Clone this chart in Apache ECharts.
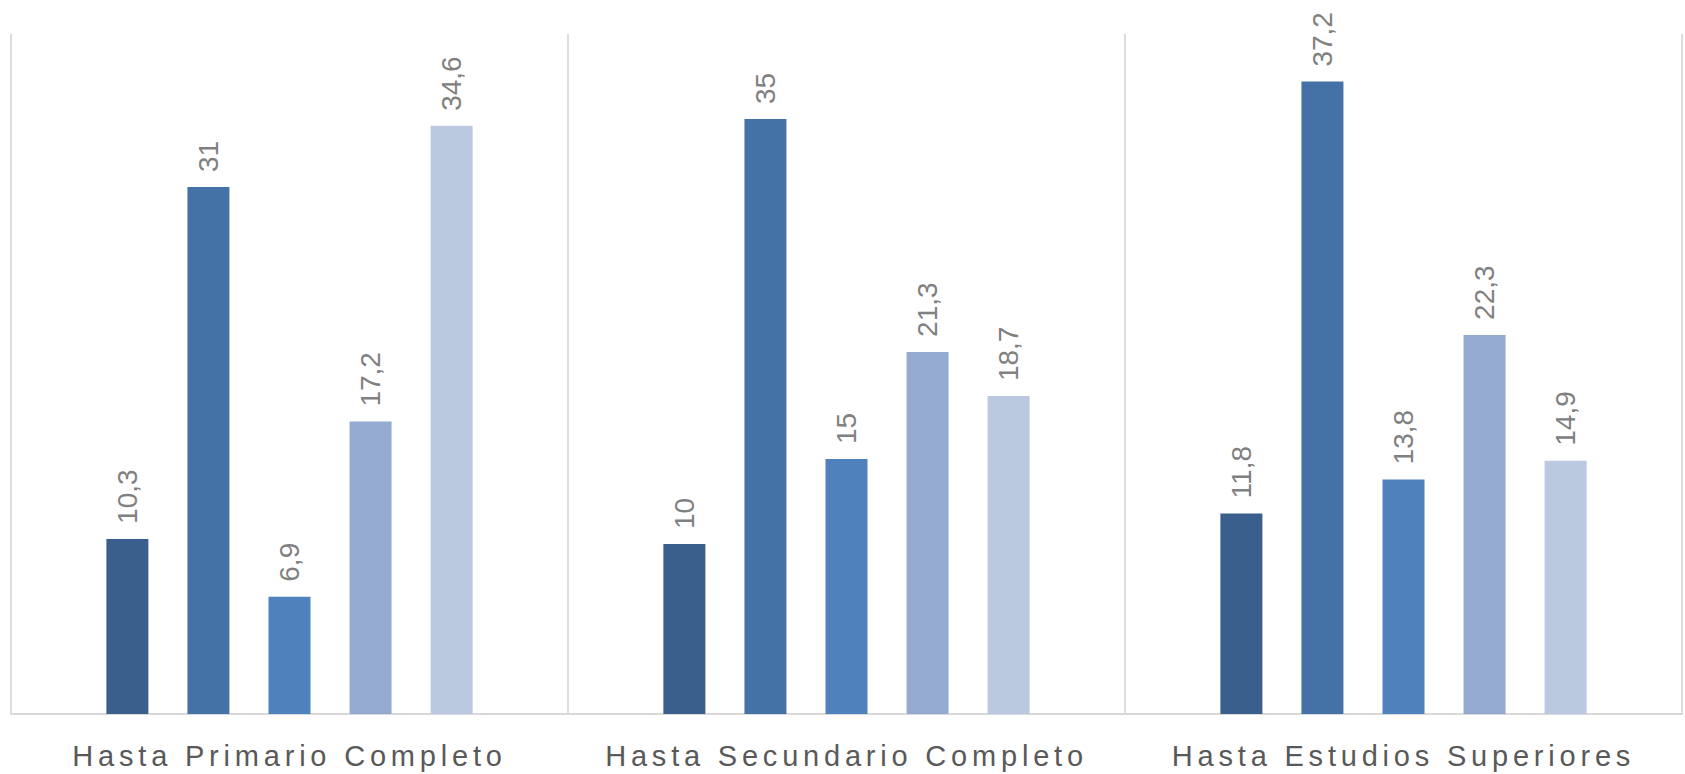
<!DOCTYPE html>
<html>
<head>
<meta charset="utf-8">
<script src="https://cdn.jsdelivr.net/npm/echarts@6/dist/echarts.min.js"></script>
<style>
html, body { margin: 0; padding: 0; background: #ffffff; }
#chart { width: 1685px; height: 774px; }
#chart text[fill="#595959"] { letter-spacing: 4.8px; }
</style>
</head>
<body>
<div id="chart"></div>
<script>
const categories = ['Hasta Primario Completo', 'Hasta Secundario Completo', 'Hasta Estudios Superiores'];
const seriesNames = ['Serie 1', 'Serie 2', 'Serie 3', 'Serie 4', 'Serie 5'];
const serie1 = [10.3, 10, 11.8];
const serie2 = [31, 35, 37.2];
const serie3 = [6.9, 15, 13.8];
const serie4 = [17.2, 21.3, 22.3];
const serie5 = [34.6, 18.7, 14.9];
const seriesValues = [serie1, serie2, serie3, serie4, serie5];
const colors = ['#3B5F8D', '#4572A6', '#4F81BD', '#95AAD0', '#BAC8E0'];

const chart = echarts.init(document.getElementById('chart'), null, { renderer: 'svg' });
chart.setOption({
  backgroundColor: '#ffffff',
  animation: false,
  grid: { left: 11, right: 3, top: 34, bottom: 60, containLabel: false },
  xAxis: {
    type: 'category',
    data: categories,
    axisLine: { show: true, lineStyle: { color: '#D9D9D9', width: 2 } },
    axisTick: { show: false },
    splitLine: { show: true, lineStyle: { color: '#DDDDDD', width: 2 } },
    axisLabel: { color: '#595959', fontSize: 29, fontFamily: 'Liberation Sans, Arial, sans-serif', margin: 27 }
  },
  yAxis: {
    type: 'value', min: 0, max: 40, interval: 10,
    show: false,
    splitLine: { show: false }
  },
  series: seriesValues.map((vals, i) => ({
    name: seriesNames[i],
    type: 'bar',
    data: vals,
    barWidth: 42,
    barGap: '93%',
    itemStyle: { color: colors[i] },
    label: {
      show: true,
      position: 'top',
      rotate: 90,
      align: 'left',
      verticalAlign: 'middle',
      distance: 15,
      color: '#808080',
      fontSize: 28,
      fontFamily: 'Liberation Sans, Arial, sans-serif',
      formatter: p => String(p.value).replace('.', ',')
    }
  }))
});
</script>
</body>
</html>
